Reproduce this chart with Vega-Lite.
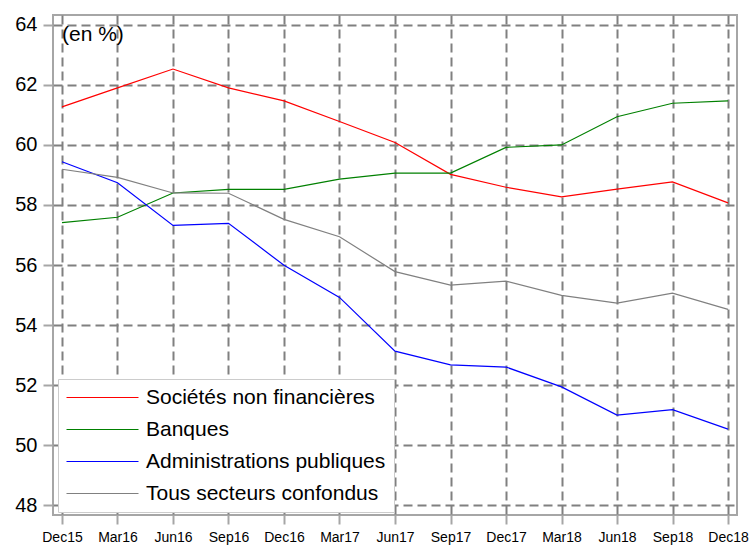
{
  "$schema": "https://vega.github.io/schema/vega-lite/v6.json",
  "width": 684,
  "height": 500,
  "autosize": {"type": "none"},
  "padding": {"left": 53, "top": 15, "right": 14, "bottom": 32},
  "background": "white",
  "config": {
    "font": "Liberation Sans",
    "view": {"stroke": "#a6a6a6", "strokeWidth": 2},
    "axis": {"domain": false, "gridColor": "#808080", "gridDash": [9, 5], "gridWidth": 2, "gridOpacity": 1, "tickColor": "#a6a6a6", "tickWidth": 2, "labelColor": "#000000", "title": null}
  },
  "title": {"text": "(en %)", "anchor": "start", "frame": "group", "orient": "top", "offset": -30, "dx": 9, "fontSize": 21, "fontWeight": "normal", "font": "Liberation Sans", "color": "#000000"},
  "data": {
    "values": [
      {"d": "Dec15", "Sociétés non financières": 61.27, "Banques": 57.41, "Administrations publiques": 59.44, "Tous secteurs confondus": 59.19},
      {"d": "Mar16", "Sociétés non financières": 61.9, "Banques": 57.59, "Administrations publiques": 58.74, "Tous secteurs confondus": 58.92},
      {"d": "Jun16", "Sociétés non financières": 62.53, "Banques": 58.4, "Administrations publiques": 57.32, "Tous secteurs confondus": 58.4},
      {"d": "Sep16", "Sociétés non financières": 61.9, "Banques": 58.52, "Administrations publiques": 57.39, "Tous secteurs confondus": 58.39},
      {"d": "Dec16", "Sociétés non financières": 61.47, "Banques": 58.52, "Administrations publiques": 55.99, "Tous secteurs confondus": 57.52},
      {"d": "Mar17", "Sociétés non financières": 60.78, "Banques": 58.86, "Administrations publiques": 54.92, "Tous secteurs confondus": 56.94},
      {"d": "Jun17", "Sociétés non financières": 60.08, "Banques": 59.06, "Administrations publiques": 53.13, "Tous secteurs confondus": 55.78},
      {"d": "Sep17", "Sociétés non financières": 59.02, "Banques": 59.06, "Administrations publiques": 52.67, "Tous secteurs confondus": 55.33},
      {"d": "Dec17", "Sociétés non financières": 58.59, "Banques": 59.92, "Administrations publiques": 52.6, "Tous secteurs confondus": 55.46},
      {"d": "Mar18", "Sociétés non financières": 58.27, "Banques": 60.0, "Administrations publiques": 51.94, "Tous secteurs confondus": 54.99},
      {"d": "Jun18", "Sociétés non financières": 58.53, "Banques": 60.94, "Administrations publiques": 51.0, "Tous secteurs confondus": 54.73},
      {"d": "Sep18", "Sociétés non financières": 58.77, "Banques": 61.39, "Administrations publiques": 51.18, "Tous secteurs confondus": 55.06},
      {"d": "Dec18", "Sociétés non financières": 58.07, "Banques": 61.47, "Administrations publiques": 50.53, "Tous secteurs confondus": 54.52}
    ]
  },
  "transform": [
    {"fold": ["Sociétés non financières", "Banques", "Administrations publiques", "Tous secteurs confondus"], "as": ["serie", "value"]}
  ],
  "mark": {"type": "line", "strokeWidth": 1.2},
  "encoding": {
    "x": {
      "field": "d", "type": "ordinal",
      "sort": null,
      "scale": {"type": "point", "padding": 0.162},
      "axis": {"labelAngle": 0, "labelFontSize": 14, "labelFont": "Liberation Sans Narrow, Liberation Sans", "labelPadding": 6, "tickSize": 9, "grid": true, "gridDash": [9, 5]}
    },
    "y": {
      "field": "value", "type": "quantitative",
      "scale": {"domain": [47.67, 64.33], "nice": false, "zero": false},
      "axis": {"values": [48, 50, 52, 54, 56, 58, 60, 62, 64], "labelFontSize": 20, "labelPadding": 6, "tickSize": 10, "grid": true}
    },
    "color": {
      "field": "serie", "type": "nominal",
      "scale": {"domain": ["Sociétés non financières", "Banques", "Administrations publiques", "Tous secteurs confondus"], "range": ["#ff0000", "#008000", "#0000ff", "#808080"]},
      "legend": {
        "title": null, "orient": "none", "legendX": 5, "legendY": 364,
        "symbolType": "M-1.25,0H7.75", "symbolSize": 256, "symbolStrokeWidth": 1.2,
        "labelFontSize": 21, "labelFont": "Liberation Sans", "labelColor": "#000000", "labelOffset": 59, "labelLimit": 400,
        "rowPadding": 10, "padding": 8,
        "strokeColor": "#cccccc", "fillColor": "white"
      }
    }
  }
}
